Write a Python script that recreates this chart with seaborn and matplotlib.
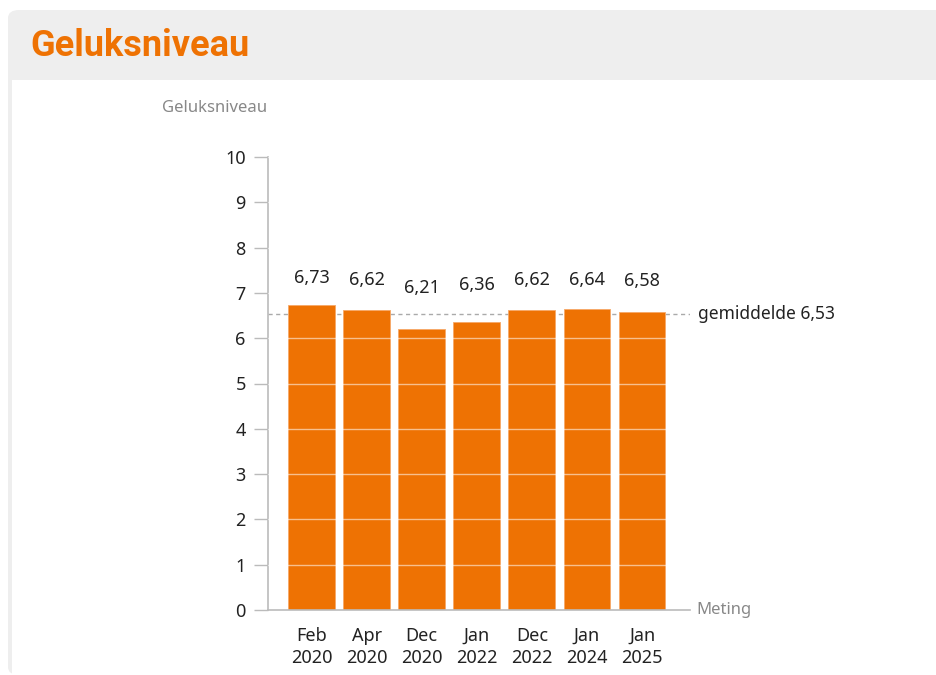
import matplotlib
matplotlib.use("Agg")
import matplotlib.pyplot as plt
from matplotlib.patches import FancyBboxPatch, Rectangle
import seaborn as sns
import pandas as pd

categories = ["Feb\n2020", "Apr\n2020", "Dec\n2020", "Jan\n2022", "Dec\n2022", "Jan\n2024", "Jan\n2025"]
values = [6.73, 6.62, 6.21, 6.36, 6.62, 6.64, 6.58]
value_labels = ["6,73", "6,62", "6,21", "6,36", "6,62", "6,64", "6,58"]
mean_value = 6.53
mean_label = "gemiddelde 6,53"
y_ticks = [0, 1, 2, 3, 4, 5, 6, 7, 8, 9, 10]

ORANGE = "#EE7203"
W, H = 936, 675

sns.set_theme(style="white")
plt.rcParams["font.family"] = ["Noto Sans", "DejaVu Sans"]

fig = plt.figure(figsize=(W / 100, H / 100), dpi=100)
fig.patch.set_facecolor("white")

# panel background
panel = FancyBboxPatch((8 / W, 0), 1.2, (H - 10) / H, boxstyle="round,pad=0,rounding_size=0.012",
                       transform=fig.transFigure, facecolor="#EEEEEE", edgecolor="none", zorder=0)
fig.patches.append(panel)
inner = Rectangle((12 / W, 0), 1.0, (H - 80) / H, transform=fig.transFigure,
                  facecolor="white", edgecolor="none", zorder=0.5)
fig.patches.append(inner)

fig.text(30 / W, 1 - 46 / H, "Geluksniveau", color=ORANGE, fontsize=26, fontweight="bold",
         family=["Roboto", "DejaVu Sans"], va="center", ha="left")

ax = fig.add_axes([268 / W, (H - 610) / H, 422 / W, 453 / H])
ax.set_zorder(5)
ax.set_facecolor("none")
df = pd.DataFrame({"Meting": categories, "Geluksniveau": values})
sns.barplot(data=df, x="Meting", y="Geluksniveau", color=ORANGE, saturation=1, width=0.85,
            edgecolor="#F6A868", linewidth=0.6, ax=ax, zorder=2)

ax.set_ylim(0, 10)
ax.set_xlim(-0.79, 6.87)
ax.set_yticks(y_ticks)
ax.set_yticklabels([str(t) for t in y_ticks])
for t in y_ticks[1:]:
    ax.axhline(t, color="white", alpha=0.55, lw=1.0, zorder=3)

ax.axhline(mean_value, color="#AAAAAA", lw=1.0, ls=(0, (3, 2.5)), zorder=1)
ax.text(1.02, mean_value, mean_label, transform=ax.get_yaxis_transform(), ha="left", va="center",
        fontsize=12.5, color="#222222")

for i, (v, lab) in enumerate(zip(values, value_labels)):
    ax.text(i, 4.50 + 0.42 * v, lab, ha="center", va="center", fontsize=13, color="#222222")

for s in ["top", "right"]:
    ax.spines[s].set_visible(False)
for s in ["left", "bottom"]:
    ax.spines[s].set_color("#BBBBBB")
    ax.spines[s].set_linewidth(1.2)

ax.tick_params(axis="y", length=10, width=1, color="#BBBBBB", labelsize=13, labelcolor="#222222", pad=6, left=True)
ax.tick_params(axis="x", length=0, labelsize=13, labelcolor="#222222", pad=12)
for lbl in ax.get_xticklabels():
    lbl.set_linespacing(1.3)

ax.set_xlabel("")
ax.set_ylabel("")
ax.text(1.015, 0, "Meting", transform=ax.transAxes, ha="left", va="center", fontsize=12, color="#888888")
fig.text(267 / W, 1 - 108 / H, "Geluksniveau", ha="right", va="center", fontsize=12, color="#888888")

fig.savefig("out.png", dpi=100)
